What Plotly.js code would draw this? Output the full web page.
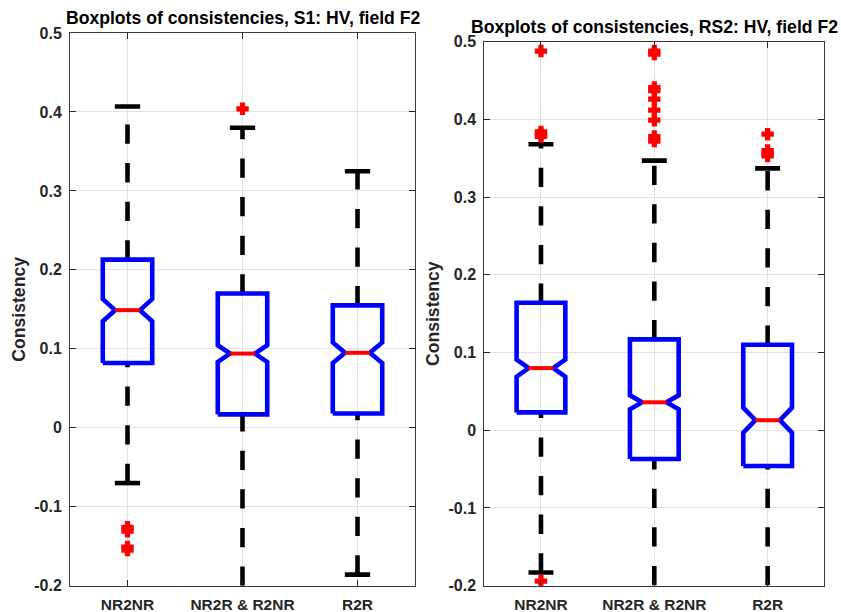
<!DOCTYPE html>
<html>
<head>
<meta charset="utf-8">
<script src="https://cdn.plot.ly/plotly-3.0.1.min.js"></script>
<style>html,body{margin:0;padding:0;background:#fff;}#chart{width:841px;height:612px;}</style>
</head>
<body>
<div id="chart"></div>
<script>
// ---------------- data ----------------
const categories = ['NR2NR', 'NR2R & R2NR', 'R2R'];
const yTickVals = [-0.2, -0.1, 0, 0.1, 0.2, 0.3, 0.4, 0.5];
const yTickText = ['-0.2', '-0.1', '0', '0.1', '0.2', '0.3', '0.4', '0.5'];

// S1: HV, field F2
const s1Q1 = [0.082, 0.017, 0.018];
const s1Median = [0.149, 0.094, 0.095];
const s1Q3 = [0.213, 0.170, 0.155];
const s1LowerWhisker = [-0.070, -0.249, -0.186];
const s1UpperWhisker = [0.407, 0.380, 0.325];
const s1NotchSpan = [0.014, 0.0105, 0.013];
const s1Outliers = [[-0.126, -0.131, -0.151, -0.155], [0.404], []];

// RS2: HV, field F2
const rs2Q1 = [0.023, -0.037, -0.046];
const rs2Median = [0.080, 0.036, 0.013];
const rs2Q3 = [0.164, 0.117, 0.110];
const rs2LowerWhisker = [-0.183, -0.249, -0.249];
const rs2UpperWhisker = [0.368, 0.347, 0.337];
const rs2NotchSpan = [0.011, 0.009, 0.016];
const rs2Outliers = [[0.488, 0.384, 0.381, 0.378, -0.194],
                     [0.488, 0.484, 0.441, 0.437, 0.426, 0.412, 0.399, 0.378, 0.372],
                     [0.381, 0.360, 0.356, 0.353]];

const titles = ['Boxplots of consistencies, S1: HV, field F2', 'Boxplots of consistencies, RS2: HV, field F2'];

// ---------------- styling ----------------
const HW = 0.215;      // half box width (x units)
const NW = 0.108;      // half width at notch
const CW = 0.11;       // half whisker-cap width
const FONT = 'Liberation Sans, Arial, Helvetica, sans-serif';
const DASH = '19.3px,19.3px';

function buildTraces(q1, med, q3, lw, uw, ns, outl, xa, ya) {
  const tr = [];
  for (let i = 0; i < categories.length; i++) {
    const c = i + 1;
    // whiskers
    tr.push({x: [c, c], y: [q3[i], uw[i]], xaxis: xa, yaxis: ya, mode: 'lines',
      line: {color: '#000', width: 4.6, dash: DASH}, hoverinfo: 'skip'});
    tr.push({x: [c, c], y: [lw[i], q1[i]], xaxis: xa, yaxis: ya, mode: 'lines',
      line: {color: '#000', width: 4.6, dash: DASH}, hoverinfo: 'skip'});
    // caps
    tr.push({x: [c - CW, c + CW], y: [uw[i], uw[i]], xaxis: xa, yaxis: ya, mode: 'lines',
      line: {color: '#000', width: 4.6}, hoverinfo: 'skip'});
    tr.push({x: [c - CW, c + CW], y: [lw[i], lw[i]], xaxis: xa, yaxis: ya, mode: 'lines',
      line: {color: '#000', width: 4.6}, hoverinfo: 'skip'});
    // notched box outline
    const lo = med[i] - ns[i], hi = med[i] + ns[i];
    tr.push({
      x: [c - HW, c - HW, c - NW, c - HW, c - HW, c + HW, c + HW, c + NW, c + HW, c + HW, c - HW],
      y: [q1[i], lo, med[i], hi, q3[i], q3[i], hi, med[i], lo, q1[i], q1[i]],
      xaxis: xa, yaxis: ya, mode: 'lines',
      line: {color: '#0000ff', width: 4.6}, hoverinfo: 'skip'});
    // median
    tr.push({x: [c - NW, c + NW], y: [med[i], med[i]], xaxis: xa, yaxis: ya, mode: 'lines',
      line: {color: '#ff0000', width: 4}, hoverinfo: 'skip'});
    // outliers
    if (outl[i].length) {
      tr.push({x: outl[i].map(() => c), y: outl[i], xaxis: xa, yaxis: ya, mode: 'markers',
        marker: {symbol: 'cross', size: 9, color: '#ff0000', line: {width: 1.6, color: '#ff0000'}}, hoverinfo: 'skip'});
    }
  }
  return tr;
}

const data = [].concat(
  buildTraces(s1Q1, s1Median, s1Q3, s1LowerWhisker, s1UpperWhisker, s1NotchSpan, s1Outliers, 'x', 'y'),
  buildTraces(rs2Q1, rs2Median, rs2Q3, rs2LowerWhisker, rs2UpperWhisker, rs2NotchSpan, rs2Outliers, 'x2', 'y2')
);

function xAxis(domain, anchor) {
  return {
    domain: domain, anchor: anchor, range: [0.5, 3.5], tickvals: [1, 2, 3], ticktext: categories,
    ticks: 'inside', ticklen: 6, tickcolor: '#262626', showgrid: true, gridcolor: '#e2e2e2',
    showline: true, mirror: 'ticks', linecolor: '#3a3a3a', linewidth: 1, zeroline: false,
    tickfont: {family: FONT, size: 15.5, color: '#262626', weight: 'bold'},
    ticklabelstandoff: 5, automargin: false, fixedrange: true
  };
}
function yAxis(domain, anchor) {
  return {
    domain: domain, anchor: anchor, range: [-0.2, 0.5], tickvals: yTickVals, ticktext: yTickText,
    ticks: 'inside', ticklen: 6, tickcolor: '#262626', showgrid: true, gridcolor: '#e2e2e2',
    showline: true, mirror: 'ticks', linecolor: '#3a3a3a', linewidth: 1, zeroline: false,
    tickfont: {family: FONT, size: 16, color: '#262626', weight: 'bold'},
    ticklabelstandoff: 4,
    title: {text: 'Consistency', font: {family: FONT, size: 17.6, color: '#262626', weight: 'bold'}, standoff: 4},
    automargin: false, fixedrange: true
  };
}

const layout = {
  width: 841, height: 612,
  margin: {l: 0, r: 0, t: 0, b: 0, autoexpand: false},
  paper_bgcolor: '#fff', plot_bgcolor: '#fff', showlegend: false,
  xaxis: xAxis([70 / 841, 415 / 841], 'y'),
  yaxis: yAxis([26.3 / 612, 579 / 612], 'x'),
  xaxis2: xAxis([484.3 / 841, 824.3 / 841], 'y2'),
  yaxis2: yAxis([26.3 / 612, 570.3 / 612], 'x2'),
  annotations: [
    {text: titles[0], xref: 'x domain', yref: 'y domain', x: 0.5, y: 1, xanchor: 'center', yanchor: 'bottom',
     yshift: 3, showarrow: false, font: {family: FONT, size: 17.6, color: '#000', weight: 'bold'}},
    {text: titles[1], xref: 'x2 domain', yref: 'y2 domain', x: 0.5, y: 1, xanchor: 'center', yanchor: 'bottom',
     yshift: 3, showarrow: false, font: {family: FONT, size: 17.6, color: '#000', weight: 'bold'}}
  ]
};

Plotly.newPlot('chart', data, layout, {staticPlot: true, displayModeBar: false});
</script>
</body>
</html>
